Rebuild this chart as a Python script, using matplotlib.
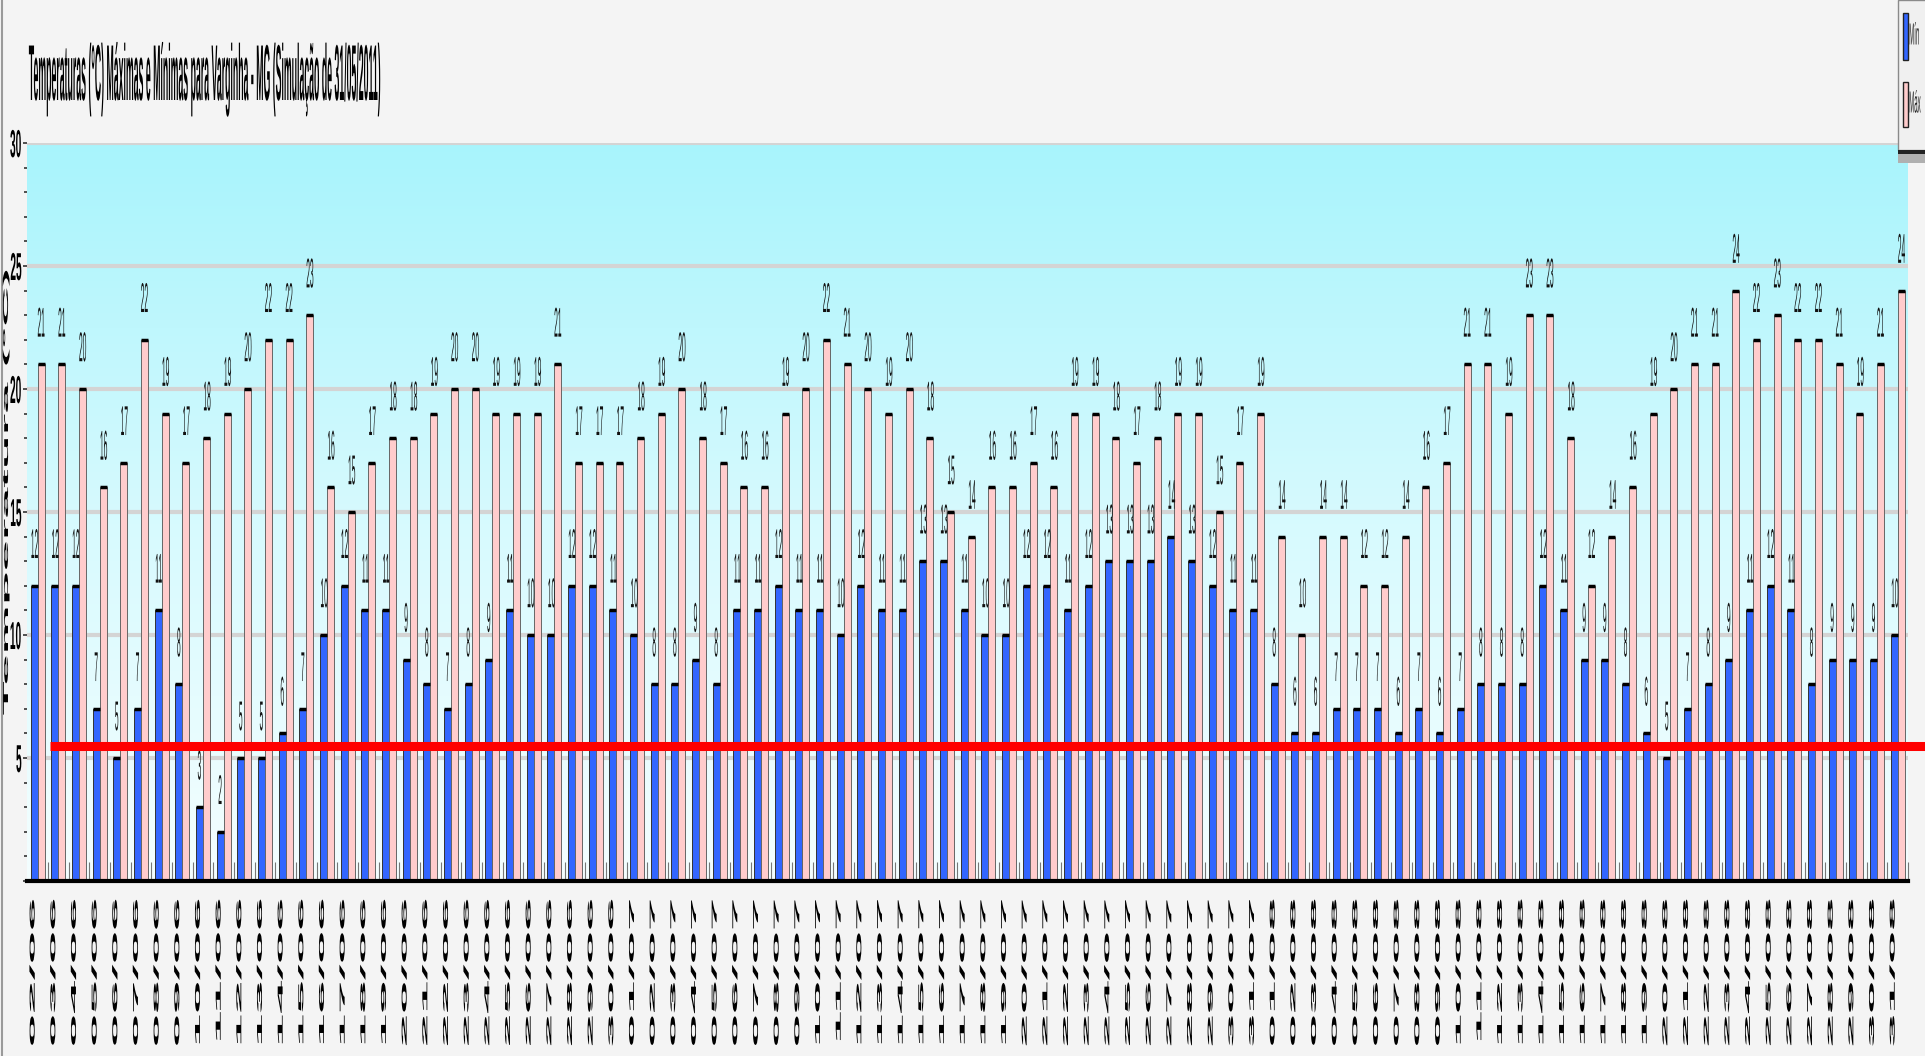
import numpy as np
import pandas as pd
import matplotlib
matplotlib.use('Agg')
import matplotlib.pyplot as plt
import matplotlib.patheffects as pe
from matplotlib.text import Text
from matplotlib.transforms import Affine2D, Bbox
from matplotlib.patches import Rectangle
from matplotlib.lines import Line2D
from matplotlib.colors import LinearSegmentedColormap

# dias da simulacao (02/06 a 31/08)
dias = pd.date_range('2011-06-02', '2011-08-31', freq='D').strftime('%d/%m').tolist()

# temperaturas minimas (C)
t_min = [12, 12, 12, 7, 5, 7, 11, 8, 3, 2, 5, 5, 6, 7, 10, 12, 11, 11,
         9, 8, 7, 8, 9, 11, 10, 10, 12, 12, 11, 10, 8, 8, 9, 8, 11, 11, 12,
         11, 11, 10, 12, 11, 11, 13, 13, 11, 10, 10, 12, 12, 11,
         12, 13, 13, 13, 14, 13, 12, 11, 11, 8, 6, 6, 7,
         7, 7, 6, 7, 6, 7, 8, 8, 8, 12, 11, 9, 9, 8,
         6, 5, 7, 8, 9, 11, 12, 11, 8, 9, 9, 9, 10]

# temperaturas maximas (C)
t_max = [21, 21, 20, 16, 17, 22, 19, 17, 18, 19, 20, 22, 22, 23, 16, 15, 17, 18,
         18, 19, 20, 20, 19, 19, 19, 21, 17, 17, 17, 18, 19, 20, 18, 17, 16, 16, 19,
         20, 22, 21, 20, 19, 20, 18, 15, 14, 16, 16, 17, 16, 19,
         19, 18, 17, 18, 19, 19, 15, 17, 19, 14, 10, 14, 14,
         12, 12, 14, 16, 17, 21, 21, 19, 23, 23, 18, 12, 14, 16,
         19, 20, 21, 21, 24, 22, 23, 22, 22, 21, 19, 21, 24]

limiar = 5.5   # linha de referencia (geada)

titulo = 'Temperaturas (°C) Máximas e Mínimas para Varginha - MG (Simulação de 31/05/2011)'
rotulo_y = 'Temperatura (°C)'
nomes = ['Mín', 'Máx']
y_ticks = [0, 5, 10, 15, 20, 25, 30]

W, H = 1925, 1056
COR_MIN = '#3366ff'
COR_MAX = '#ffcccc'

plt.rcParams['font.family'] = ['Liberation Sans', 'DejaVu Sans']


class Squeeze(pe.AbstractPathEffect):
    """Estreita o texto na horizontal (fonte condensada)."""
    def __init__(self, sx, anchor='center'):
        super().__init__()
        self.sx = sx
        self.anchor = anchor

    def pivot(self, x0, x1):
        if self.anchor == 'left':
            return x0
        if self.anchor == 'right':
            return x1
        return (x0 + x1) / 2

    def draw_path(self, renderer, gc, tpath, affine, rgbFace=None):
        ext = affine.transform_path(tpath).get_extents()
        p = self.pivot(ext.x0, ext.x1)
        sq = Affine2D().translate(-p, 0).scale(self.sx, 1).translate(p, 0)
        renderer.draw_path(gc, tpath, affine + sq, rgbFace)


# a caixa do texto tambem fica estreita
_text_extent = Text.get_window_extent


def _squeezed_extent(self, renderer=None, dpi=None):
    bb = _text_extent(self, renderer, dpi)
    for eff in self.get_path_effects():
        if isinstance(eff, Squeeze):
            p = eff.pivot(bb.x0, bb.x1)
            return Bbox([[p + (bb.x0 - p) * eff.sx, bb.y0],
                         [p + (bb.x1 - p) * eff.sx, bb.y1]])
    return bb


Text.get_window_extent = _squeezed_extent


def fx(px):
    return px / W


def fy(py):
    return 1 - py / H


fig = plt.figure(figsize=(W / 100, H / 100), dpi=100, facecolor='#f4f4f4')
ax = fig.add_axes([fx(27.3), fy(881), fx(1908 - 27.3), (881 - 143) / H])

# fundo em degrade
ceu = LinearSegmentedColormap.from_list('ceu', ['#f4feff', '#d6fafe', '#a8f4fc'])
ax.imshow(np.linspace(0, 1, 256).reshape(-1, 1), cmap=ceu, origin='lower',
          aspect='auto', extent=[0, 1, 0, 1], transform=ax.transAxes, zorder=0)

x = np.arange(len(dias))
w = 0.34
ax.bar(x - w / 2, t_min, w, color=COR_MIN, edgecolor='#333333', linewidth=0.7, zorder=2)
ax.bar(x + w / 2, t_max, w, color=COR_MAX, edgecolor='#666666', linewidth=0.7, zorder=2)
ax.hlines(t_min, x - w, x, colors='black', lw=2.5, zorder=3)
ax.hlines(t_max, x, x + w, colors='black', lw=2.5, zorder=3)

for xs, vals in [(x - w / 2, t_min), (x + w / 2, t_max)]:
    for xi, v in zip(xs, vals):
        ax.annotate(str(v), (xi, v), xytext=(0, 20), textcoords='offset points',
                    ha='center', va='baseline', fontsize=30, color='#111111',
                    path_effects=[Squeeze(0.16)], zorder=4)

# linha vermelha de referencia
ax.plot([0.6, len(dias) + 0.4], [limiar, limiar], color='red', lw=6.5,
        solid_capstyle='butt', clip_on=False, zorder=6)

ax.set_xlim(-0.5, len(dias) - 0.5)
ax.set_ylim(0, 30)

ax.set_xticks(x)
ax.set_xticklabels(dias, rotation=90, fontsize=43, fontweight='bold')
ax.set_xticks(x + 0.5, minor=True)
ax.tick_params(axis='x', which='major', length=0, pad=12)
ax.tick_params(axis='x', which='minor', direction='in', length=14, width=0.8, color='#777777')

ax.set_yticks(y_ticks)
ax.set_yticklabels([str(t) if t else '' for t in y_ticks], fontsize=28, fontweight='bold')
ax.set_yticks(range(0, 31), minor=True)
ax.tick_params(axis='y', which='major', direction='out', length=3, width=1.2, color='#333333', pad=0.5)
ax.tick_params(axis='y', which='minor', direction='out', length=2.5, width=1.2, color='#333333')
ax.yaxis.grid(True, which='major', color='#d4d4d4', lw=3)
ax.set_axisbelow(True)

for t in ax.get_xticklabels():
    t.set_path_effects([Squeeze(0.12)])
for t in ax.get_yticklabels():
    t.set_path_effects([Squeeze(0.26, 'right')])

for s in ['top', 'right', 'left']:
    ax.spines[s].set_visible(False)
ax.spines['bottom'].set_linewidth(3)
ax.spines['bottom'].set_color('black')

fig.text(fx(6.5), fy(492), rotulo_y, rotation=90, ha='center', va='center',
         fontsize=40, fontweight='bold', path_effects=[Squeeze(0.13)])

tit = fig.text(fx(28), fy(100), titulo, ha='left', va='baseline',
               fontsize=57, fontweight='bold')
bb = tit.get_window_extent(fig.canvas.get_renderer())
tit.set_path_effects([Squeeze(352 / bb.width, 'left')])

# borda esquerda da figura
fig.add_artist(Line2D([fx(1.5), fx(1.5)], [0, 1], color='#9a9a9a', lw=1.5))

# legenda
fig.add_artist(Rectangle((fx(1898), fy(150)), fx(40), 150 / H, transform=fig.transFigure,
                         facecolor='#f0f0f0', edgecolor='#8a8a8a', lw=1, zorder=7))
fig.add_artist(Rectangle((fx(1898), fy(154)), fx(40), 4 / H, transform=fig.transFigure,
                         facecolor='#222222', edgecolor='none', zorder=7))
fig.add_artist(Rectangle((fx(1898), fy(163)), fx(40), 9 / H, transform=fig.transFigure,
                         facecolor='#b0b0b0', edgecolor='none', zorder=7))
for (top, bot), cor, nome in zip([(13, 60), (82, 127)], [COR_MIN, COR_MAX], nomes):
    fig.add_artist(Rectangle((fx(1903), fy(bot)), fx(5), (bot - top) / H,
                             transform=fig.transFigure, facecolor=cor,
                             edgecolor='#222222', lw=1, zorder=8))
    fig.text(fx(1914), fy((top + bot) / 2), nome, ha='center', va='center',
             fontsize=22, color='#222222', zorder=9, path_effects=[Squeeze(0.2)])

fig.savefig('out.png', dpi=100, facecolor=fig.get_facecolor())
